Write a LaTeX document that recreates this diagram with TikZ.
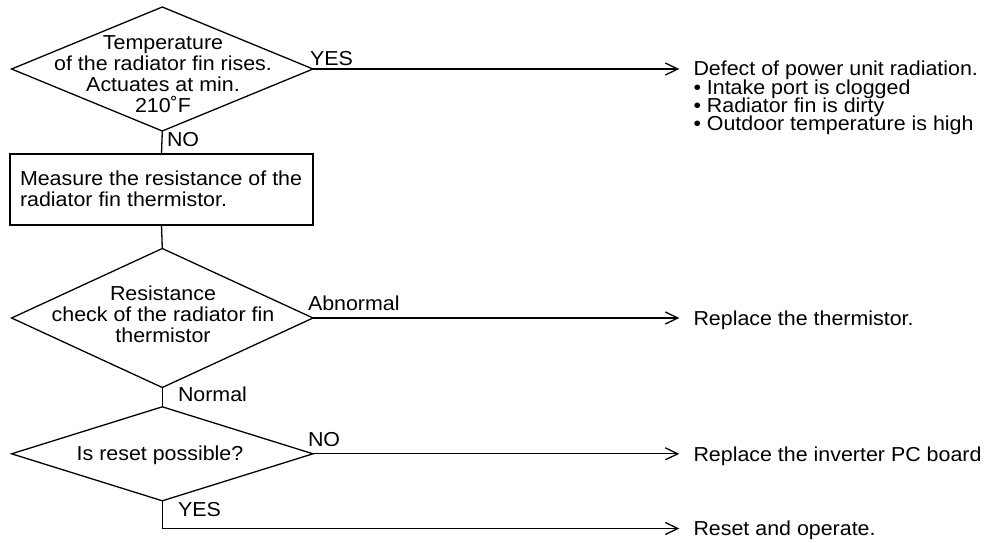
\documentclass[tikz,border=0pt]{standalone}
\usepackage{fontspec}
\setmainfont{Liberation Sans}[FakeStretch=1.06]
\usetikzlibrary{shapes.geometric,arrows.meta}
\newcommand\tightlines{\lineskiplimit=-10pt\relax\lineskip=0pt\relax}
\begin{document}
\begin{tikzpicture}[x=0.5pt,y=-0.5pt,
  line width=0.65pt,
  dia/.style={diamond,draw,inner sep=0pt,outer sep=0pt,minimum width=150.7pt},
  procbox/.style={rectangle,draw,inner sep=0pt,outer sep=0pt},
  txt/.style={inner sep=0pt,outer sep=0pt,font=\fontsize{10.1}{10.5}\selectfont},
  lab/.style={txt,anchor=base west},
  arr/.style={-{Straight Barb[length=6.25pt,width=6pt,line width=0.65pt]}}]
\useasboundingbox (0,0) rectangle (987,542);
% shapes
\node[dia,minimum height=62pt] (d1) at (162.3,69) {};
\node[procbox,minimum width=151.5pt,minimum height=35.5pt] (b1) at (161.5,189.5) {};
\node[dia,minimum height=69.5pt] (d2) at (162.3,318) {};
\node[dia,minimum height=47pt] (d3) at (162.3,453.8) {};
% texts inside
\node[txt,align=center,anchor=north] (t1) at (163,35.5) {Temperature\\of the radiator fin rises.\\Actuates at min.\\210˚F};
\node[txt,align=left,anchor=north west,font=\fontsize{10.1}{10.85}\selectfont] (t2) at (20,170.5) {Measure the resistance of the\\radiator fin thermistor.};
\node[txt,align=center,anchor=north] (t3) at (163,285.5) {Resistance\\check of the radiator fin\\thermistor};
\node[txt,anchor=base] (t4) at (160,460) {Is reset possible?};
% labels
\node[lab] (l1) at (310,65) {YES};
\node[lab] (l2) at (167,146.5) {NO};
\node[lab] (l3) at (308,310) {Abnormal};
\node[lab] (l4) at (178,401.5) {Normal};
\node[lab] (l5) at (308,446) {NO};
\node[lab] (l6) at (178,516.5) {YES};
% results
\node[txt,align=left,anchor=north west,font=\fontsize{10.1}{9.15}\selectfont\tightlines] (r1) at (693.5,61.3) {Defect of power unit radiation.\\• Intake port is clogged\\• Radiator fin is dirty\\• Outdoor temperature is high};
\node[txt,anchor=base west] (r2) at (693.5,325) {Replace the thermistor.};
\node[txt,anchor=base west] (r3) at (693.5,461) {Replace the inverter PC board};
\node[txt,anchor=base west] (r4) at (693.5,535.5) {Reset and operate.};
% connectors
\coordinate (tipx) at (679.3,0);
\coordinate (tip4) at (679.3,528.5);
\draw[arr] (d1.east) -- (d1.east -| tipx);
\draw (d1.south) -- (b1.north);
\draw (b1.south) -- (d2.north);
\draw[arr] (d2.east) -- (d2.east -| tipx);
\draw (d2.south) -- (d3.north);
\draw[arr] (d3.east) -- (d3.east -| tipx);
\draw[arr] (d3.south) |- (tip4);
\end{tikzpicture}
\end{document}
